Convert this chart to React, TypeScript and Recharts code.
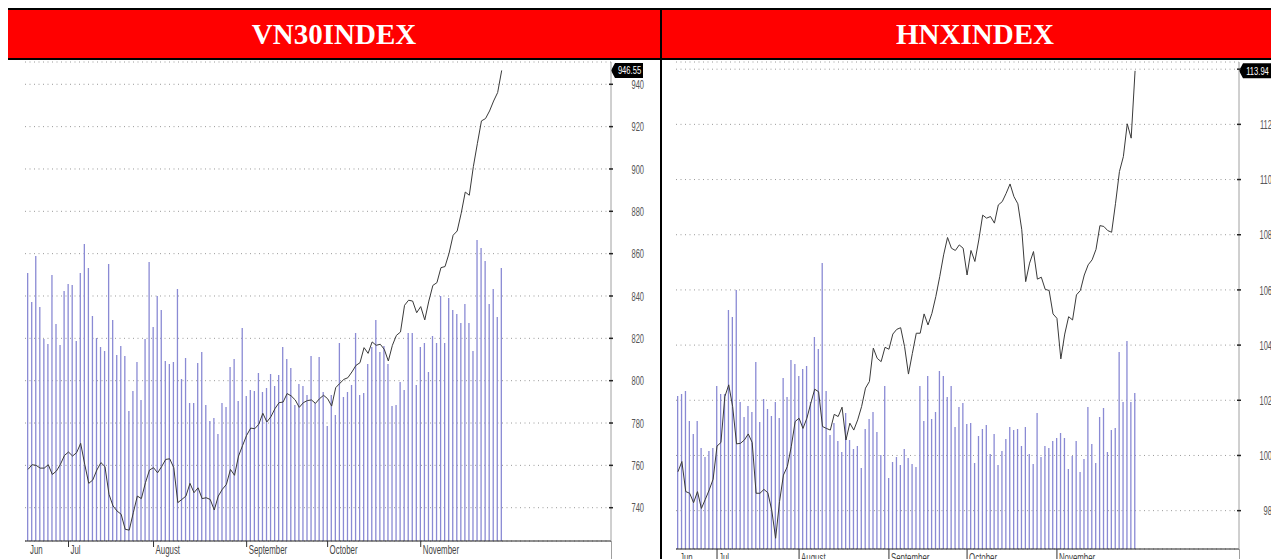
import React from 'react';
import {
  ComposedChart,
  Bar,
  Line,
  XAxis,
  YAxis,
  CartesianGrid,
  ReferenceLine
} from 'recharts';

// month starts, as trading-day index
const monthTicks = [0, 10, 31, 54, 74, 97];
const monthLabels = ['Jun', 'Jul', 'August', 'September', 'October', 'November'];

const vn30Close = [
  758.1, 760.3, 760.0, 758.7, 758.7, 760.3, 755.7, 757.3, 760.5, 764.7,
  766.3, 764.4, 766.0, 770.4, 760.5, 751.5, 753.1, 757.8, 761.3, 759.4,
  746.3, 740.8, 738.4, 736.9, 729.8, 729.4, 737.6, 745.5, 744.3, 751.8,
  757.8, 758.9, 756.5, 759.4, 762.8, 763.1, 758.9, 742.4, 743.9, 745.5,
  751.5, 747.1, 749.4, 744.3, 744.7, 743.9, 738.9, 745.5, 748.7, 751.0,
  758.1, 755.3, 764.4, 769.4, 774.2, 777.6, 777.3, 779.4, 784.6, 780.5,
  783.0, 786.8, 789.6, 789.9, 793.9, 792.8, 790.9, 787.4, 789.6, 790.6,
  790.9, 789.3, 791.5, 793.1, 791.5, 788.0, 796.7, 798.7, 800.6, 801.4,
  804.1, 807.2, 808.5, 815.6, 812.9, 818.3, 816.7, 817.2, 814.8, 809.3,
  816.7, 821.4, 823.0, 835.6, 838.0, 837.6, 832.1, 835.0, 828.7, 837.6,
  845.0, 846.3, 853.4, 853.9, 860.2, 868.7, 870.7, 879.1, 889.1, 887.6,
  901.1, 912.1, 922.7, 923.8, 927.4, 932.1, 936.1, 946.55
];
const vn30Volume = [
  268, 239, 285, 234, 202, 197, 266, 217, 196, 250,
  257, 256, 200, 268, 297, 273, 225, 203, 194, 190,
  277, 221, 186, 195, 185, 130, 150, 179, 141, 202,
  279, 214, 245, 231, 180, 177, 179, 252, 162, 183,
  138, 138, 178, 189, 136, 120, 123, 107, 138, 134,
  174, 182, 140, 213, 145, 151, 150, 168, 149, 153,
  167, 155, 166, 194, 182, 173, 136, 157, 155, 146,
  185, 138, 184, 149, 115, 146, 126, 198, 144, 149,
  156, 208, 146, 148, 177, 194, 221, 189, 195, 177,
  135, 136, 159, 151, 208, 208, 156, 194, 198, 169,
  205, 198, 245, 198, 243, 231, 227, 218, 237, 218,
  190, 301, 293, 280, 237, 252, 224, 273
];
const vn30Ticks = [740, 760, 780, 800, 820, 840, 860, 880, 900, 920, 940];

const hnxClose = [
  99.41, 99.78, 98.69, 98.63, 98.29, 98.69, 98.08, 98.41, 98.75, 99.14,
  100.34, 100.47, 102.13, 102.56, 101.77, 100.42, 100.44, 100.56, 100.78, 100.47,
  98.63, 98.63, 98.77, 98.65, 98.02, 97.0, 98.33, 99.29, 99.6, 100.32,
  101.23, 101.35, 100.98, 101.35, 101.89, 102.4, 102.31, 101.05, 100.98, 100.92,
  101.49, 101.41, 101.75, 100.56, 101.17, 100.92, 101.29, 101.77, 102.44, 102.68,
  103.89, 103.52, 103.4, 103.92, 103.85, 104.4, 104.57, 104.63, 103.95, 102.95,
  103.7, 104.43, 104.43, 105.13, 104.73, 105.15, 105.76, 106.48, 107.27, 107.9,
  107.51, 107.43, 107.63, 107.51, 106.54, 107.43, 107.03, 107.81, 108.71, 108.6,
  108.66, 108.42, 109.08, 109.2, 109.5, 109.84, 109.38, 109.12, 108.18, 106.3,
  106.97, 107.39, 106.39, 106.46, 106.02, 105.98, 105.13, 104.97, 103.5, 104.4,
  105.03, 104.91, 105.82, 105.98, 106.54, 106.91, 107.09, 107.47, 108.33, 108.3,
  108.15, 108.09, 109.14, 110.29, 110.83, 112.02, 111.5, 113.94
];
const hnxVolume = [
  153, 155, 158, 128, 115, 128, 101, 92, 98, 101,
  163, 155, 155, 239, 232, 259, 147, 132, 143, 137,
  187, 127, 150, 140, 133, 147, 131, 171, 152, 189,
  185, 173, 180, 183, 147, 212, 200, 286, 158, 114,
  126, 108, 97, 136, 109, 100, 103, 81, 120, 130,
  137, 117, 94, 163, 71, 87, 92, 84, 100, 91,
  85, 82, 163, 128, 173, 130, 137, 178, 173, 152,
  163, 122, 142, 146, 125, 126, 86, 113, 120, 124,
  95, 115, 84, 98, 110, 122, 119, 120, 103, 122,
  95, 85, 136, 92, 103, 101, 108, 111, 116, 111,
  80, 93, 108, 77, 90, 142, 105, 86, 132, 141,
  97, 119, 121, 197, 147, 208, 147, 156
];
const hnxTicks = [98, 100, 102, 104, 106, 108, 110, 112, 114];

const tickFont = "'Liberation Sans', Arial, sans-serif";

const MonthTick = (props: any) => {
  const { x, y, payload, markLen } = props;
  const idx = monthTicks.indexOf(payload.value);
  return (
    <g>
      {payload.value !== 0 && (
        <line x1={x} y1={y} x2={x} y2={y + markLen} stroke="#333" />
      )}
      <text
        transform={`translate(${x + 2},${y + 13}) scale(0.63,1)`}
        fontSize={12.5}
        fontFamily={tickFont}
        fill="#444"
      >
        {monthLabels[idx]}
      </text>
    </g>
  );
};

const PriceTick = (props: any) => {
  const { x, y, payload, hideAbove } = props;
  return (
    <g>
      <line x1={x - 2} y1={y} x2={x + 2} y2={y} stroke="#222" strokeWidth={1.5} />
      {payload.value <= hideAbove && (
        <text
          transform={`translate(${x + 33},${y + 4.6}) scale(0.58,1)`}
          textAnchor="end"
          fontSize={13}
          fontFamily={tickFont}
          fill="#555"
        >
          {payload.value}
        </text>
      )}
    </g>
  );
};

// black tag with last close, pointing at the axis
const PriceTag = (props: any) => {
  const { viewBox, text } = props;
  const x = viewBox.x + viewBox.width;
  const y = viewBox.y;
  return (
    <g>
      <polygon
        points={`${x},${y} ${x + 4},${y - 7.5} ${x + 32},${y - 7.5} ${x + 32},${y + 7.5} ${x + 4},${y + 7.5}`}
        fill="#000"
      />
      <text
        transform={`translate(${x + 18.5},${y + 4}) scale(0.66,1)`}
        textAnchor="middle"
        fontSize={11.5}
        fontFamily={tickFont}
        fill="#fff"
      >
        {text}
      </text>
    </g>
  );
};

interface IndexChartProps {
  close: number[];
  volume: number[];
  ticks: number[];
  priceDomain: [number, number];
  volDomain: [number, number];
  xDomain: [number, number];
  width: number;
  marginLeft: number;
  xAxisHeight: number;
  markLen: number;
  hideAbove: number;
}

const IndexChart: React.FC<IndexChartProps> = (p) => {
  const data = p.close.map((c, i) => ({ i, close: c, vol: p.volume[i] }));
  const last = p.close[p.close.length - 1];
  return (
    <ComposedChart
      width={p.width}
      height={520}
      data={data}
      margin={{ top: 2, right: 0, bottom: 0, left: p.marginLeft }}
    >
      <CartesianGrid
        yAxisId="price"
        vertical={false}
        stroke="#9a9a9a"
        strokeDasharray="1 3.5"
      />
      <XAxis
        dataKey="i"
        type="number"
        domain={p.xDomain}
        ticks={monthTicks}
        interval={0}
        tickSize={0}
        tickMargin={0}
        tickLine={false}
        axisLine={{ stroke: '#222' }}
        tick={<MonthTick markLen={p.markLen} />}
        height={p.xAxisHeight}
        allowDataOverflow
      />
      <YAxis yAxisId="vol" hide domain={p.volDomain} allowDataOverflow />
      <YAxis
        yAxisId="price"
        orientation="right"
        domain={p.priceDomain}
        ticks={p.ticks}
        interval={0}
        width={49}
        tickSize={0}
        tickMargin={0}
        tickLine={false}
        axisLine={{ stroke: '#a0a0a0' }}
        tick={<PriceTick hideAbove={p.hideAbove} />}
        allowDataOverflow
      />
      <Bar
        yAxisId="vol"
        dataKey="vol"
        fill="#8a8ad4"
        barSize={1.3}
        isAnimationActive={false}
      />
      <Line
        yAxisId="price"
        dataKey="close"
        stroke="#3a3a3a"
        strokeWidth={1}
        dot={false}
        isAnimationActive={false}
      />
      <ReferenceLine
        yAxisId="price"
        y={last}
        stroke="none"
        label={<PriceTag text={last.toFixed(2)} />}
      />
    </ComposedChart>
  );
};

const titleStyle: React.CSSProperties = {
  position: 'absolute',
  top: 2,
  height: 48,
  background: '#ff0000',
  color: '#fff',
  display: 'flex',
  alignItems: 'center',
  justifyContent: 'center',
  fontFamily: "'Liberation Serif', 'Times New Roman', serif",
  fontWeight: 'bold',
  fontSize: 29
};

const App: React.FC = () => {
  return (
    <div style={{ position: 'relative', width: 1280, height: 560 }}>
      <style>{'html,body{overflow:hidden}'}</style>
      <div style={{ position: 'absolute', left: 0, top: 0, width: 1280, height: 2, background: '#000' }} />
      <div style={{ ...titleStyle, left: 0, width: 652 }}>VN30INDEX</div>
      <div style={{ ...titleStyle, left: 654, width: 626 }}>HNXINDEX</div>
      <div style={{ position: 'absolute', left: 0, top: 50, width: 1280, height: 2, background: '#000' }} />
      <div style={{ position: 'absolute', left: 652, top: 0, width: 2, height: 560, background: '#000' }} />

      <div style={{ position: 'absolute', left: 0, top: 52 }}>
        <IndexChart
          close={vn30Close}
          volume={vn30Volume}
          ticks={vn30Ticks}
          priceDomain={[724.27, 950.53]}
          volDomain={[0, 479]}
          xDomain={[-0.75, 144]}
          width={652}
          marginLeft={17}
          xAxisHeight={39}
          markLen={6}
          hideAbove={1000}
        />
      </div>
      <div style={{ position: 'absolute', left: 603, top: 533, width: 1, height: 30, background: '#a0a0a0' }} />

      <div style={{ position: 'absolute', left: 654, top: 52 }}>
        <IndexChart
          close={hnxClose}
          volume={hnxVolume}
          ticks={hnxTicks}
          priceDomain={[96.61, 114.26]}
          volDomain={[0, 487]}
          xDomain={[-0.5, 143.6]}
          width={626}
          marginLeft={14}
          xAxisHeight={31}
          markLen={12}
          hideAbove={113}
        />
      </div>
      <div style={{ position: 'absolute', left: 1231, top: 541, width: 1, height: 30, background: '#a0a0a0' }} />
    </div>
  );
};

export default App;
